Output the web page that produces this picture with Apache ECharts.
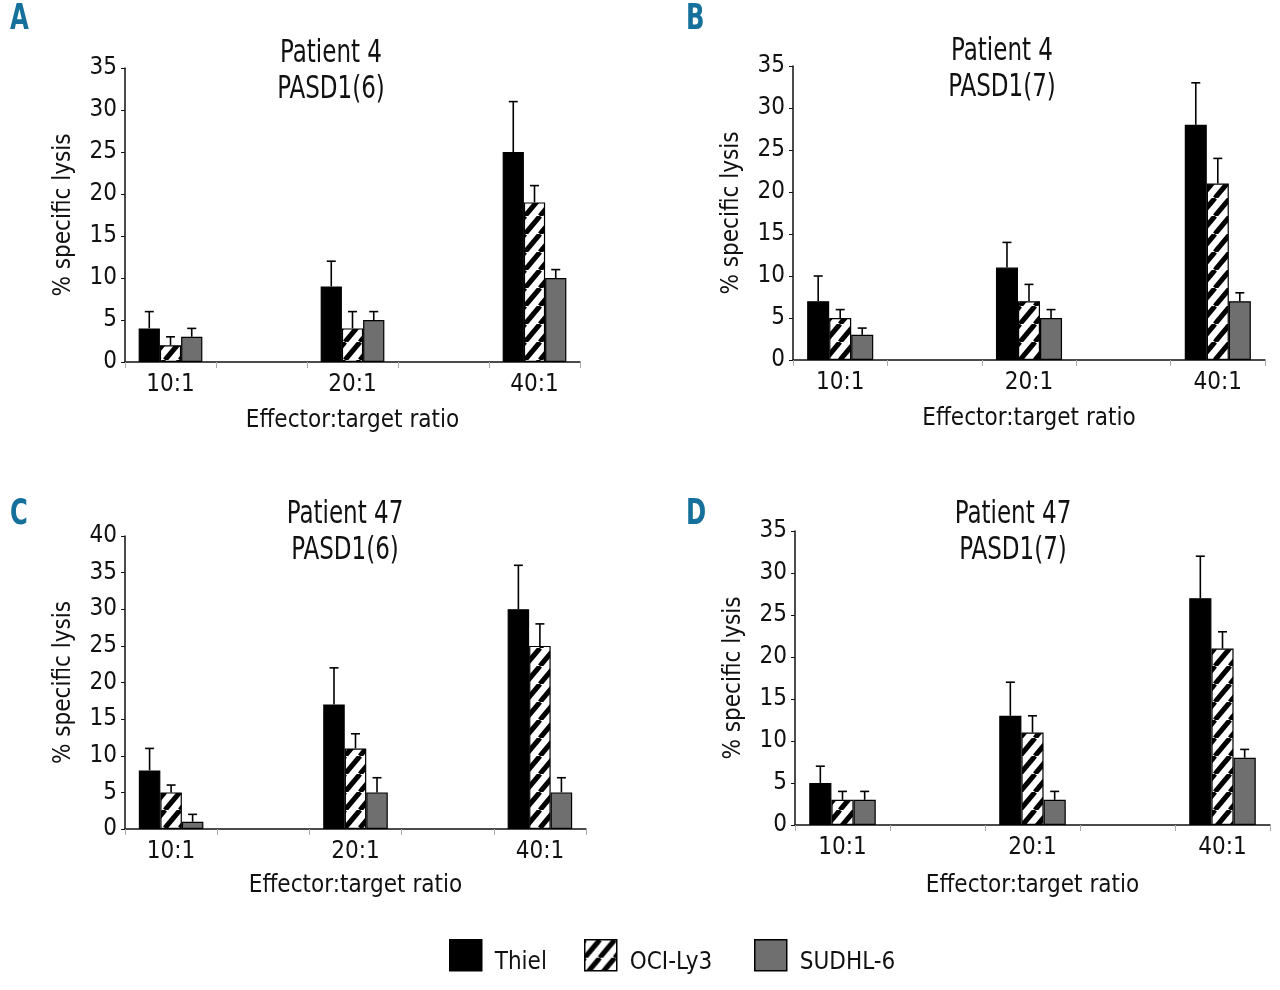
<!DOCTYPE html>
<html>
<head>
<meta charset="utf-8">
<script src="https://cdn.jsdelivr.net/npm/echarts@6/dist/echarts.min.js"></script>
<style>
html,body{margin:0;padding:0;background:#fff;}
#chart{width:1280px;height:990px;}
</style>
</head>
<body>
<div id="chart"></div>
<script>
// ---- Data ----
const ratios = ['10:1', '20:1', '40:1'];
const seriesNames = ['Thiel', 'OCI-Ly3', 'SUDHL-6'];
const yTicksA = [0, 5, 10, 15, 20, 25, 30, 35];
const yTicksC = [0, 5, 10, 15, 20, 25, 30, 35, 40];

// Panel A: Patient 4, PASD1(6)
const aThiel = [4, 9, 25];   const aThielSd = [2, 3, 6];
const aOci = [2, 4, 19];     const aOciSd = [1, 2, 2];
const aSud = [3, 5, 10];     const aSudSd = [1, 1, 1];
// Panel B: Patient 4, PASD1(7)
const bThiel = [7, 11, 28];  const bThielSd = [3, 3, 5];
const bOci = [5, 7, 21];     const bOciSd = [1, 2, 3];
const bSud = [3, 5, 7];      const bSudSd = [0.8, 1, 1];
// Panel C: Patient 47, PASD1(6)
const cThiel = [8, 17, 30];  const cThielSd = [3, 5, 6];
const cOci = [5, 11, 25];    const cOciSd = [1, 2, 3];
const cSud = [1, 5, 5];      const cSudSd = [1, 2, 2];
// Panel D: Patient 47, PASD1(7)
const dThiel = [5, 13, 27];  const dThielSd = [2, 4, 5];
const dOci = [3, 11, 21];    const dOciSd = [1, 2, 2];
const dSud = [3, 3, 8];      const dSudSd = [1, 1, 1];

const panelTitles = ['Patient 4\nPASD1(6)', 'Patient 4\nPASD1(7)', 'Patient 47\nPASD1(6)', 'Patient 47\nPASD1(7)'];
const panelLetters = ['A', 'B', 'C', 'D'];
const yAxisName = '% specific lysis';
const xAxisName = 'Effector:target ratio';

// ---- Layout / style ----
const FONT = "'Liberation Sans Narrow', 'DejaVu Sans Condensed', sans-serif";
const grids = [
  {left: 125, top: 68, width: 455, height: 294, titleX: 331, titleY: 36, letterX: 10, letterY: 2, yMax: 35, nameGapX: 47},
  {left: 793, top: 66, width: 472, height: 294, titleX: 1002, titleY: 34, letterX: 686, letterY: 2, yMax: 35, nameGapX: 47},
  {left: 125, top: 536, width: 461, height: 293, titleX: 345, titleY: 497, letterX: 10, letterY: 497, yMax: 40, nameGapX: 45},
  {left: 795, top: 531, width: 475, height: 294, titleX: 1013, titleY: 497, letterX: 686, letterY: 497, yMax: 35, nameGapX: 49}
];
const panelData = [
  [[aThiel, aThielSd], [aOci, aOciSd], [aSud, aSudSd]],
  [[bThiel, bThielSd], [bOci, bOciSd], [bSud, bSudSd]],
  [[cThiel, cThielSd], [cOci, cOciSd], [cSud, cSudSd]],
  [[dThiel, dThielSd], [dOci, dOciSd], [dSud, dSudSd]]
];

function makeHatch() {
  const w = 15, h = 18;
  const c = document.createElement('canvas');
  c.width = w; c.height = h;
  const g = c.getContext('2d');
  g.fillStyle = '#fff'; g.fillRect(0, 0, w, h);
  g.strokeStyle = '#000'; g.lineWidth = 5;
  for (const o of [-w, 0, w]) {
    g.beginPath(); g.moveTo(o, h); g.lineTo(o + w, 0); g.stroke();
  }
  return c;
}
const hatch = {image: makeHatch(), repeat: 'repeat'};
const fills = ['#000000', hatch, '#6f6f6f'];
const GAP = 0.3;

// category axis with empty slots between ratios (as in the original)
const axisCats = [];
ratios.forEach((r, i) => { if (i > 0) axisCats.push(''); axisCats.push(r); });
const catIndex = ratios.map((r) => axisCats.indexOf(r));

const option = {
  backgroundColor: '#fff',
  animation: false,
  textStyle: {fontFamily: FONT},
  grid: [], xAxis: [], yAxis: [], series: [], graphic: [],
  legend: seriesNames.map((n, i) => ({
    data: [{name: n, itemStyle: {color: fills[i], borderColor: '#000', borderWidth: 1.5}}],
    left: [444, 579, 749][i], top: 934,
    icon: 'rect', itemWidth: 32, itemHeight: 31, itemGap: 0,
    selectedMode: false,
    formatter: '{t|{name}}',
    textStyle: {
      fontFamily: FONT, fontSize: 24, color: '#111',
      rich: {t: {fontFamily: FONT, fontSize: 24, color: '#111', padding: [16, 0, 0, 8]}}
    }
  }))
};

grids.forEach((gd, p) => {
  option.grid.push({left: gd.left, top: gd.top, width: gd.width, height: gd.height, containLabel: false});
  option.xAxis.push({
    type: 'category', gridIndex: p, data: axisCats, boundaryGap: true,
    name: xAxisName, nameLocation: 'middle', nameGap: gd.nameGapX,
    nameTextStyle: {fontFamily: FONT, fontSize: 24, color: '#111'},
    axisLine: {lineStyle: {color: '#111', width: 1.5}},
    axisTick: {show: true, interval: 0, length: 6, lineStyle: {color: '#aaa'}},
    axisLabel: {interval: 0, margin: 11, fontFamily: FONT, fontSize: 24, color: '#111'},
    splitLine: {show: false}
  });
  option.yAxis.push({
    type: 'value', gridIndex: p, min: 0, max: gd.yMax, interval: 5,
    name: yAxisName, nameLocation: 'middle', nameGap: 49, nameRotate: 90,
    nameTextStyle: {fontFamily: FONT, fontSize: 24, color: '#111'},
    axisLine: {show: true, lineStyle: {color: '#111', width: 1.5}},
    axisTick: {show: true, length: 4, lineStyle: {color: '#111'}},
    axisLabel: {margin: 8, fontFamily: FONT, fontSize: 24, color: '#111'},
    splitLine: {show: false}
  });
  panelData[p].forEach((pair, s) => {
    const vals = pair[0], sds = pair[1];
    const barData = axisCats.map(() => '-');
    catIndex.forEach((ci, k) => { barData[ci] = vals[k]; });
    option.series.push({
      type: 'bar', name: seriesNames[s], xAxisIndex: p, yAxisIndex: p,
      data: barData, barGap: '0%', barCategoryGap: (GAP * 100) + '%',
      itemStyle: {color: fills[s], borderColor: '#000', borderWidth: 1.2},
      z: 2
    });
    option.series.push({
      type: 'custom', name: seriesNames[s] + ' error', xAxisIndex: p, yAxisIndex: p,
      data: catIndex.map((ci, k) => [ci, vals[k], vals[k] + sds[k], s]),
      z: 3, silent: true,
      renderItem: function (params, api) {
        const x = api.value(0), v = api.value(1), t = api.value(2), si = api.value(3);
        const p0 = api.coord([x, v]);
        const p1 = api.coord([x, t]);
        const band = api.size([1, 0])[0];
        const bw = band * (1 - GAP) / 3;
        const cx = p0[0] + (si - 1) * bw;
        const st = {stroke: '#000', lineWidth: 1.6};
        return {type: 'group', children: [
          {type: 'line', shape: {x1: cx, y1: p0[1], x2: cx, y2: p1[1]}, style: st},
          {type: 'line', shape: {x1: cx - 4.5, y1: p1[1], x2: cx + 4.5, y2: p1[1]}, style: st}
        ]};
      }
    });
  });
  option.graphic.push({
    type: 'text', x: gd.letterX, y: gd.letterY, scaleX: 0.75,
    style: {text: panelLetters[p], fontFamily: FONT, fontWeight: 'bold', fontSize: 36, fill: '#16709c', textVerticalAlign: 'top'}
  });
  option.graphic.push({
    type: 'text', x: gd.titleX, y: gd.titleY, scaleX: 0.8,
    style: {text: panelTitles[p], fontFamily: FONT, fontSize: 32, lineHeight: 36, fill: '#111', textAlign: 'center', textVerticalAlign: 'top'}
  });
});

const chart = echarts.init(document.getElementById('chart'), null, {renderer: 'canvas'});
chart.setOption(option);
</script>
</body>
</html>
